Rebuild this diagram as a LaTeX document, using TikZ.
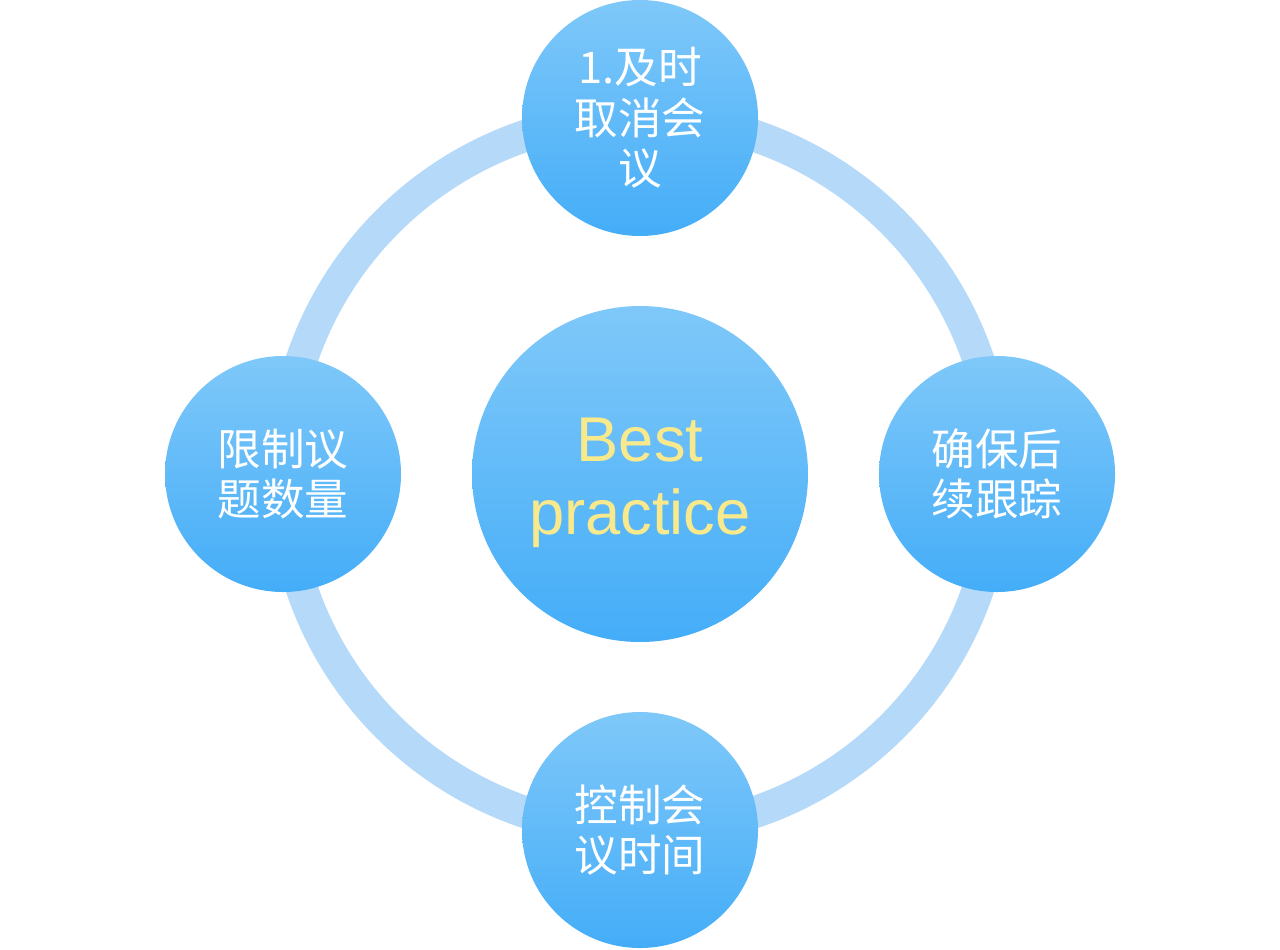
\documentclass[tikz,border=0pt]{standalone}
\usepackage{fontspec}
\setmainfont{Liberation Sans}
\newfontfamily\cjk{Noto Sans CJK SC}
\usepackage{tikz}

\definecolor{ringblue}{HTML}{B4D9F9}
\definecolor{balltop}{HTML}{7FC8F9}
\definecolor{ballmid}{HTML}{6ABEF9}
\definecolor{ballbottom}{HTML}{44ADF8}
\definecolor{bestyellow}{HTML}{F8EA8C}

\begin{document}
\begin{tikzpicture}[
	ball/.style={circle, inner sep=0pt, shade, top color=balltop, middle color=ballmid, bottom color=ballbottom, text=white, align=center},
	small/.style={ball, minimum size=2.36cm, font=\cjk\fontsize{12.4}{14.4}\selectfont},
	]
	\useasboundingbox (0, 0) rectangle (12.8, 9.49);
	\draw[ringblue, line width=0.32cm] (6.4, 4.75) circle (3.57);
	\node[ball, minimum size=3.36cm] (best) at (6.4, 4.75) {};
	\node[text=bestyellow, align=center, font=\fontsize{18}{20.7}\selectfont, yshift=-0.09cm] (besttext) at (best) {Best\\practice};
	\node[small] (cancel) at (6.4, 8.31) {1.及时\\取消会\\议};
	\node[small] (follow) at (9.97, 4.75) {确保后\\续跟踪};
	\node[small] (time) at (6.4, 1.19) {控制会\\议时间};
	\node[small] (topics) at (2.83, 4.75) {限制议\\题数量};
\end{tikzpicture}
\end{document}
